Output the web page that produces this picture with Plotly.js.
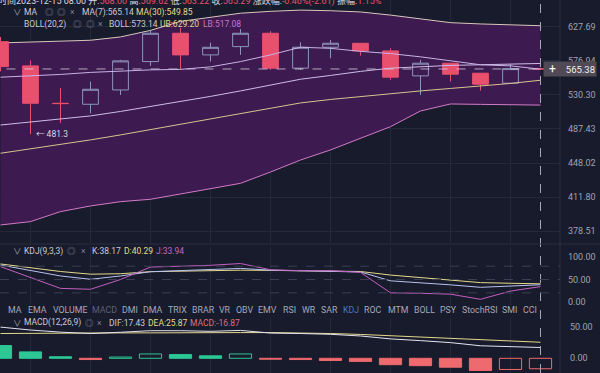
<!DOCTYPE html>
<html><head><meta charset="utf-8">
<script src="https://cdn.plot.ly/plotly-3.0.1.min.js"></script>
<style>html,body{margin:0;padding:0;background:#181b2b;overflow:hidden}#c{width:600px;height:373px}</style>
</head><body><div id="c"></div>
<script>
// ---- data ----
const bars = [0,1,2,3,4,5,6,7,8,9,10,11,12,13,14,15,16,17,18];
const opens  = [604.9,569.7,519.4,518.1,536.8,575.8,617.6,585.4,597.5,617.6,566.5,596.6,602.5,591.2,555.8,573.5,559.5,545.8,565.9];
const highs  = [612.0,577.5,539.5,548.0,578.2,622.6,625.7,603.4,624.0,621.0,604.0,607.4,603.0,595.1,578.2,573.5,559.5,572.5,567.0];
const lows   = [562.0,481.3,494.7,506.7,530.2,569.7,565.1,575.8,585.4,564.1,564.0,580.6,584.4,550.3,530.2,548.0,535.9,545.0,564.5];
const closes = [568.7,519.4,519.0,537.7,576.8,617.6,585.4,596.5,617.6,566.5,596.6,602.5,591.2,554.0,573.5,558.1,544.5,565.9,565.38];
const ub   = [603,604,605,607,612,622,636,643,649,652,654,653,651,646,640,634,632,630.5,629.20];
const boll = [492.2,495.9,499.6,503.4,509.0,515.2,521.8,528.3,535.5,543.5,551.2,556.4,562.0,566.5,568.5,570.4,571.3,572.0,573.14];
const lb   = [384.4,387.6,397.3,402.9,407.2,409.6,415.0,420.7,426.1,438.2,451.4,462.8,476.7,490.2,509.6,518.5,518.0,517.5,517.08];
const ma7  = [554.0,555.8,557.8,560.6,562.7,564.1,564.8,568.3,575.8,585.4,596.6,595.0,590.6,587.3,582.6,576.8,571.3,569.7,565.14];
const ma30 = [459.0,463.9,469.1,474.4,480.3,486.8,492.9,499.6,505.9,512.8,519.8,524.3,528.3,532.2,535.5,538.8,542.1,545.5,549.85];
const kLine = [82.6,70,58,50.5,58,67.6,70,72,75,71,70,69,67,47,43,38,32.4,35,38.17];
const dLine = [85,76,68,62,63,67.6,69,70,71,70.5,70,69.5,68,60,54,49,43,41.5,40.29];
const jLine = [79,55,30,28,50,78,80,82,86,72,70,70,66,20,19,17,5.4,24,33.94];
const dif  = [50.3,45.6,42.2,40,42,44.5,44.5,43.5,45,40.7,40,38.7,36,31.3,28.5,25.3,20.2,19,17.43];
const dea  = [40,40.5,41,41,41,41,41.5,41.5,41.5,41.5,41,40,38.5,36.5,34.5,32.5,30,28,25.87];
const hist = [20.6,10.3,2.5,-2,2,7,6,4,7,-1.5,-2,-3.5,-5,-10.3,-11.9,-14.4,-19.6,-18,-16.87];
const priceTicks = [627.69,576.94,530.30,487.43,448.02,411.80,378.51];
const kdjTicks = [0,50,100];
const kdjLevels = [20,50,80];
const macdTicks = [0,50];
const tabs = ['MA','EMA','VOLUME','MACD','DMI','DMA','TRIX','BRAR','VR','OBV','EMV','RSI','WR','SAR','KDJ','ROC','MTM','BOLL','PSY','StochRSI','SMI','CCI'];
const tabX = [7,27,52,91,121,142,167,191,218,235,257,282,301,320,342,363,387,413,439,461,501,522];

// ---- styling ----
const BG='#181b2b', GRID='#242839', TXT='#c8cad8', TICK='#9ea3b5';
const YEL='#e3d98a', PINK='#c978c4', RED='#e8506e', UPC='#8d95bd', GREEN='#2cc795', HRED='#ee6a6e';
const FONT="Roboto, 'Noto Sans CJK SC', sans-serif";
const last = bars.length-1;
const px = x => x/560, py = y => 1 - y/373;
const PRANGE = [2.5654,2.82643];

const traces = [
  {x:bars,y:ub,type:'scatter',mode:'lines',line:{color:'#d9c6bd',width:1},hoverinfo:'skip'},
  {x:bars,y:lb,type:'scatter',mode:'lines',line:{color:'#d27ac8',width:1},fill:'tonexty',fillcolor:'#3d1a4f',hoverinfo:'skip'},
  // overlay (drawn above the band fill)
  {x:bars,open:opens,high:highs,low:lows,close:closes,type:'candlestick',yaxis:'y4',
   increasing:{line:{color:UPC,width:1},fillcolor:'rgba(0,0,0,0)'},
   decreasing:{line:{color:RED,width:1},fillcolor:RED},whiskerwidth:0},
  {x:[-1,last],y:[closes[last],closes[last]],yaxis:'y4',type:'scatter',mode:'lines',line:{color:'rgba(225,220,235,0.75)',width:1,dash:'dash'}},
  {x:bars,y:boll,yaxis:'y4',type:'scatter',mode:'lines',line:{color:'#cdbde8',width:1}},
  {x:bars,y:ma7,yaxis:'y4',type:'scatter',mode:'lines',line:{color:'#c9b3e6',width:1}},
  {x:bars,y:ma30,yaxis:'y4',type:'scatter',mode:'lines',line:{color:'#d8c38e',width:1}},
  // KDJ
  {x:bars,y:dLine,xaxis:'x2',yaxis:'y2',type:'scatter',mode:'lines',line:{color:YEL,width:1}},
  {x:bars,y:kLine,xaxis:'x2',yaxis:'y2',type:'scatter',mode:'lines',line:{color:'#b9c1ee',width:1}},
  {x:bars,y:jLine,xaxis:'x2',yaxis:'y2',type:'scatter',mode:'lines',line:{color:'#c25fc0',width:1}},
  // MACD
  {x:bars,y:hist,xaxis:'x3',yaxis:'y3',type:'bar',width:0.74,
   marker:{color:hist.map((v,i)=> (i>0 && v>hist[i-1]) ? 'rgba(0,0,0,0)' : (v>=0?GREEN:HRED)),
           line:{color:hist.map(v=> v>=0?GREEN:HRED),width:1}}},
  {x:bars,y:dea,xaxis:'x3',yaxis:'y3',type:'scatter',mode:'lines',line:{color:YEL,width:1}},
  {x:bars,y:dif,xaxis:'x3',yaxis:'y3',type:'scatter',mode:'lines',line:{color:'#e4e4f0',width:1}}
];

const gridX = bars.filter(i=>i%2===1);
const xBase = {range:[-0.0167,18.65],showticklabels:false,ticks:'',tickmode:'array',tickvals:gridX,
  showgrid:true,gridcolor:GRID,gridwidth:1,zeroline:false,showline:false,fixedrange:true};
const tickFont = {family:FONT,size:9,color:TICK};

const ann = [];
function seg(x,y,text,color,size){ann.push({xref:'paper',yref:'paper',x:px(x),y:py(y),xanchor:'left',yanchor:'middle',
  showarrow:false,text:text,font:{family:FONT,size:size||8.5,color:color||TXT},borderpad:0});}
const r = s=>`<span style="color:#e8506e">${s}</span>`;
seg(-3,1,'时间2023-12-15 08:00 开:'+r('568.00')+' 高:'+r('569.62')+' 低:'+r('563.22')+' 收:'+r('565.29')+' 涨跌幅:'+r('-0.46%(-2.61)')+' 振幅:'+r('1.15%'),'#d8d8e4',9);
seg(12,12,'∨','#9ea3b5'); seg(23,12,'MA'); seg(44,12,'◎','#7d8296'); seg(56,12,'◎','#7d8296'); seg(69,12,'×','#7d8296');
seg(81,12,`MA(7):${ma7[last].toFixed(2)}`); seg(135,12,`MA(30):${ma30[last].toFixed(2)}`,YEL);
seg(23,24,'BOLL(20,2)'); seg(72,24,'◎','#7d8296'); seg(85,24,'◎','#7d8296'); seg(97,24,'×','#7d8296');
seg(108,24,`BOLL:${boll[last].toFixed(2)}`); seg(159,24,`UB:${ub[last].toFixed(2)}`,YEL); seg(202,24,`LB:${lb[last].toFixed(2)}`,PINK);
seg(12,251,'∨','#9ea3b5'); seg(23,251,'KDJ(9,3,3)'); seg(66,251,'◎','#7d8296'); seg(80,251,'×','#7d8296');
seg(91,251,`K:${kLine[last].toFixed(2)}`); seg(123,251,`D:${dLine[last].toFixed(2)}`,YEL); seg(155,251,`J:${jLine[last].toFixed(2)}`,'#c566c4');
tabs.forEach((t,i)=>seg(tabX[i],309.5,t, t==='MACD'?'#5d6176':(t==='KDJ'?'#4f73c2':'#a6a9bb'),8.8));
seg(12,322.7,'∨','#9ea3b5'); seg(23,322.7,'MACD(12,26,9)'); seg(84,322.7,'◎','#7d8296'); seg(96,322.7,'×','#7d8296');
seg(108,322.7,`DIF:${dif[last].toFixed(2)}`); seg(147,322.7,`DEA:${dea[last].toFixed(2)}`,YEL); seg(189,322.7,`MACD:${hist[last].toFixed(2)}`,'#d8707c');
const lowMin = Math.min(...lows), lowIdx = lows.indexOf(lowMin);
ann.push({xref:'x',yref:'y',x:bars[lowIdx],y:Math.log10(lowMin),xanchor:'left',yanchor:'middle',xshift:3,showarrow:false,
  text:'← '+lowMin.toFixed(1),font:{family:FONT,size:8.5,color:'#d8d8e6'}});
ann.push({xref:'paper',yref:'y',x:px(543),y:Math.log10(closes[last]),xanchor:'left',yanchor:'middle',showarrow:false,
  text:closes[last].toFixed(2),align:'right',width:50,height:12,bgcolor:'#4f4a55',borderpad:1,font:{family:FONT,size:9.5,color:'#f0f0f4'}});
ann.push({xref:'paper',yref:'y',x:px(547),y:Math.log10(closes[last]),xanchor:'left',yanchor:'middle',showarrow:false,
  text:'+',font:{family:FONT,size:12,color:'#ffffff'}});

const shapes = [
  {type:'line',xref:'x',yref:'paper',x0:last,x1:last,y0:0,y1:1,line:{color:'#a8a8b4',width:1,dash:'dash'}},
  {type:'line',xref:'paper',yref:'paper',x0:1,x1:1,y0:0,y1:1,line:{color:'#2a2e40',width:1}},
  {type:'line',xref:'paper',yref:'paper',x0:0,x1:600/560,y0:py(244),y1:py(244),line:{color:'#2a2e40',width:1}}
];
kdjLevels.forEach(v=>shapes.push({type:'line',xref:'paper',yref:'y2',x0:0,x1:1,y0:v,y1:v,line:{color:'#3b3f53',width:1,dash:'dash'}}));

const layout = {
  width:600,height:373,margin:{l:0,r:40,t:0,b:0},paper_bgcolor:BG,plot_bgcolor:BG,showlegend:false,
  boxgap:0.25,hovermode:false,
  xaxis:Object.assign({},xBase,{anchor:'y',rangeslider:{visible:false}}),
  xaxis2:Object.assign({},xBase,{anchor:'y2',matches:'x'}),
  xaxis3:Object.assign({},xBase,{anchor:'y3',matches:'x'}),
  yaxis:{type:'log',domain:[1-243/373,1],range:PRANGE,side:'right',anchor:'x',tickmode:'array',
    tickvals:priceTicks,ticktext:priceTicks.map(v=>v.toFixed(2)),tickfont:tickFont,ticks:'',ticklabelstandoff:7,
    showgrid:true,gridcolor:GRID,zeroline:false,showline:false,fixedrange:true},
  yaxis4:{type:'log',overlaying:'y',range:PRANGE,side:'right',anchor:'x',showticklabels:false,ticks:'',
    showgrid:false,zeroline:false,showline:false,fixedrange:true},
  yaxis2:{domain:[1-305/373,1-247/373],range:[-7.4,123.2],side:'right',anchor:'x2',tickmode:'array',
    tickvals:kdjTicks,ticktext:kdjTicks.map(v=>v.toFixed(2)),tickfont:tickFont,ticks:'',ticklabelstandoff:7,
    showgrid:false,zeroline:false,showline:false,fixedrange:true},
  yaxis3:{domain:[0,1-318/373],range:[-23.7,65],side:'right',anchor:'x3',tickmode:'array',
    tickvals:macdTicks,ticktext:macdTicks.map(v=>v.toFixed(2)),tickfont:tickFont,ticks:'',ticklabelstandoff:9,
    showgrid:false,zeroline:false,showline:false,fixedrange:true},
  annotations:ann,shapes:shapes
};
Plotly.newPlot('c',traces,layout,{staticPlot:true,displayModeBar:false});
</script></body></html>
